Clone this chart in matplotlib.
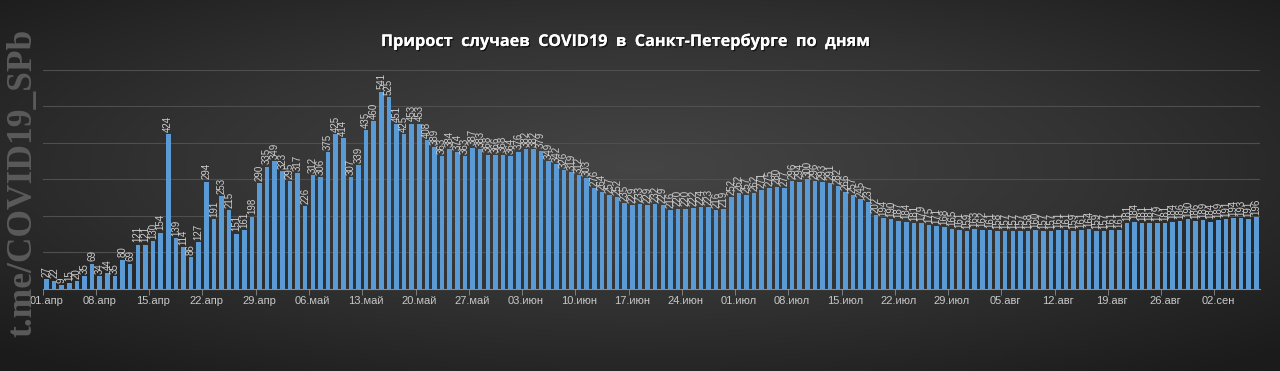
import numpy as np
import pandas as pd
import matplotlib
matplotlib.use("Agg")
import matplotlib.pyplot as plt
import matplotlib.patheffects as pe
from matplotlib.colors import LinearSegmentedColormap

# daily new cases, St. Petersburg, 01.04 - 07.09
apr = [27, 22, 9, 15, 20, 35, 69, 34, 44, 35, 80, 69, 121, 121, 130, 154, 424, 139, 114, 86,
       127, 294, 191, 253, 215, 151, 161, 198, 290, 335]
may = [349, 323, 295, 317, 226, 312, 306, 375, 425, 414, 307, 339, 435, 460, 541, 525, 451, 425,
       453, 453, 408, 389, 363, 384, 374, 363, 387, 383, 368, 366, 368]
jun = [364, 376, 382, 382, 379, 349, 342, 326, 319, 312, 303, 276, 264, 257, 252, 235, 229, 233,
       229, 232, 229, 216, 220, 220, 222, 224, 223, 216, 219, 252]
jul = [262, 257, 262, 271, 275, 280, 277, 296, 294, 300, 296, 293, 291, 282, 266, 257, 245, 237,
       202, 194, 190, 187, 184, 181, 179, 175, 171, 168, 165, 161, 159]
aug = [163, 162, 161, 158, 157, 157, 157, 158, 160, 157, 157, 161, 161, 159, 161, 164, 159, 157,
       161, 161, 181, 184, 181, 181, 179, 181, 184, 186, 190, 186, 189]
sep = [184, 189, 191, 194, 193, 191, 196]

values = apr + may + jun + jul + aug + sep
dates = pd.date_range("2020-04-01", periods=len(values), freq="D")
months_ru = {4: "апр", 5: "май", 6: "июн", 7: "июл", 8: "авг", 9: "сен"}
labels = ["%02d.%s" % (d.day, months_ru[d.month]) for d in dates]

W, H = 1280, 371
fig = plt.figure(figsize=(W / 100, H / 100), dpi=100)

# dark radial background
bg = fig.add_axes([0, 0, 1, 1])
yy, xx = np.mgrid[0:1:200j, 0:1:600j]
r = np.sqrt(((xx - 0.5) / 0.75) ** 2 + ((yy - 0.45) / 0.75) ** 2)
cmap_bg = LinearSegmentedColormap.from_list("bg", ["#454545", "#333333", "#1b1b1b"])
bg.imshow(r, cmap=cmap_bg, aspect="auto", extent=[0, 1, 0, 1], vmin=0, vmax=0.95)
bg.axis("off")

x = np.arange(len(values))
left = 42.7 / W
right = 1260.1 / W
ax = fig.add_axes([left, (H - 288.7) / H, right - left, (288.7 - 70) / H])
ax.patch.set_alpha(0)
ax.bar(x, values, width=0.6, color="#5b9bd5", zorder=3)
ax.set_xlim(-0.5, len(values) - 0.5)
ax.set_ylim(0, 600)
ax.set_yticks(range(0, 601, 100))
ax.yaxis.grid(True, color="#4f4f4f", linewidth=0.8, zorder=0)
ax.tick_params(axis="y", left=False, labelleft=False)

for s in ["top", "right", "left"]:
    ax.spines[s].set_visible(False)
ax.spines["bottom"].set_color("#8c8c8c")
ax.spines["bottom"].set_linewidth(0.8)

week = x[::7]
ax.set_xticks(week)
ax.set_xticklabels([labels[i] for i in week], color="#c8c8c8", fontsize=8,
                   family="Liberation Sans")
ax.tick_params(axis="x", length=0, pad=5)
ax.set_xticks(week - 0.5, minor=True)
ax.tick_params(axis="x", which="minor", length=4, color="#8c8c8c", direction="out")

for xi, v in zip(x, values):
    ax.text(xi, v + 6, str(v), rotation=90, ha="center", va="bottom",
            fontsize=7, color="#cfcfcf", family="Liberation Sans", zorder=4)

fig.text(0.489, 0.887, "Прирост  случаев  COVID19  в  Санкт-Петербурге  по  дням",
         ha="center", va="center", color="white", fontsize=11.7, fontweight="bold",
         family="Open Sans",
         path_effects=[pe.withSimplePatchShadow(offset=(1, -1), shadow_rgbFace="black", alpha=0.6),
                       pe.Normal()])

fig.text(0.018, 0.507, "t.me/COVID19_SPb", rotation=90, ha="center", va="center",
         color="#5a5a5a", fontsize=25.5, fontweight="bold", family="Liberation Serif")

fig.savefig("out.png", dpi=100)
